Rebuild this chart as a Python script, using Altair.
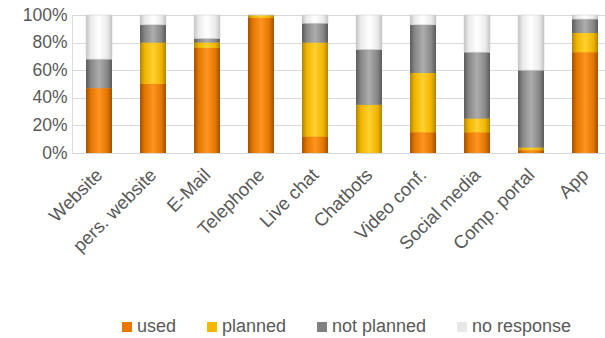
import altair as alt
import pandas as pd

categories = ["Website", "pers. website", "E-Mail", "Telephone", "Live chat",
              "Chatbots", "Video conf.", "Social media", "Comp. portal", "App"]
series = ["used", "planned", "not planned", "no response"]
used = [47, 50, 76, 98, 12, 0, 15, 15, 2, 73]
planned = [0, 30, 4, 2, 68, 35, 43, 10, 2, 14]
not_planned = [21, 13, 3, 0, 14, 40, 35, 48, 56, 10]
no_response = [32, 7, 17, 0, 6, 25, 7, 27, 40, 3]

solid = ["#E87800", "#F5B800", "#808080", "#E8E8E8"]
grads = [
    ("#A04F00", "#E27600", "#FF9420"),
    ("#B08400", "#F0B400", "#FFD030"),
    ("#5A5A5A", "#878787", "#ADADAD"),
    ("#C4C4C4", "#EBEBEB", "#FFFFFF"),
]

rows = []
for vals, s_i in zip([used, planned, not_planned, no_response], range(4)):
    for c, v in zip(categories, vals):
        rows.append({"category": c, "series": series[s_i], "order": s_i, "value": v})
df = pd.DataFrame(rows)

xenc = alt.X("category:N", sort=categories, title=None,
             scale=alt.Scale(paddingInner=0.52, paddingOuter=0.195, align=0.667),
             axis=alt.Axis(labelAngle=-45, ticks=False, labelFontSize=18.5,
                           labelColor="#595959", labelPadding=12, labelOffset=-6,
                           domainColor="#D9D9D9", labelFont="Liberation Sans"))
yenc = alt.Y("y0:Q", title=None,
             scale=alt.Scale(domain=[0, 100], nice=False),
             axis=alt.Axis(values=[0, 20, 40, 60, 80, 100], labelExpr="datum.value + '%'",
                           ticks=False, domain=False, labelFontSize=17.5,
                           labelColor="#595959", labelPadding=5,
                           gridColor="#D9D9D9", labelFont="Liberation Sans"))

base = alt.Chart(df).transform_stack(
    stack="value", groupby=["category"], as_=["y0", "y1"],
    sort=[alt.SortField("order", order="ascending")]
)

legend_layer = base.mark_bar().encode(
    x=xenc, y=yenc, y2="y1:Q",
    color=alt.Color("series:N", sort=series, title=None,
                    scale=alt.Scale(domain=series, range=solid),
                    legend=alt.Legend(orient="none", legendX=46, legendY=303,
                                      direction="horizontal", symbolType="square",
                                      symbolSize=100, labelFontSize=18,
                                      labelColor="#595959", columnPadding=26,
                                      labelOffset=1, symbolStrokeWidth=0,
                                      labelFont="Liberation Sans")),
)

layers = [legend_layer]
for s_i, s in enumerate(series):
    dark, mid, light = grads[s_i]
    g = alt.Gradient(gradient="linear", x1=0, x2=1, y1=0, y2=0, stops=[
        alt.GradientStop(color=dark, offset=0),
        alt.GradientStop(color=mid, offset=0.18),
        alt.GradientStop(color=light, offset=0.5),
        alt.GradientStop(color=mid, offset=0.82),
        alt.GradientStop(color=dark, offset=1),
    ])
    kw = {}
    if s == "no response":
        kw = {"stroke": "#C8C8C8", "strokeWidth": 0.5}
    layers.append(
        base.transform_filter(alt.datum.series == s)
        .mark_bar(fill=g, **kw)
        .encode(x=xenc, y=yenc, y2="y1:Q")
    )

chart = alt.layer(*layers).properties(
    width=533, height=138,
    autosize=alt.AutoSizeParams(type="none"),
    padding={"left": 72, "top": 15, "right": 0, "bottom": 185},
).configure_view(stroke=None).configure(font="Liberation Sans")

chart.save("out.html", embed_options={"renderer": "svg", "actions": False})
